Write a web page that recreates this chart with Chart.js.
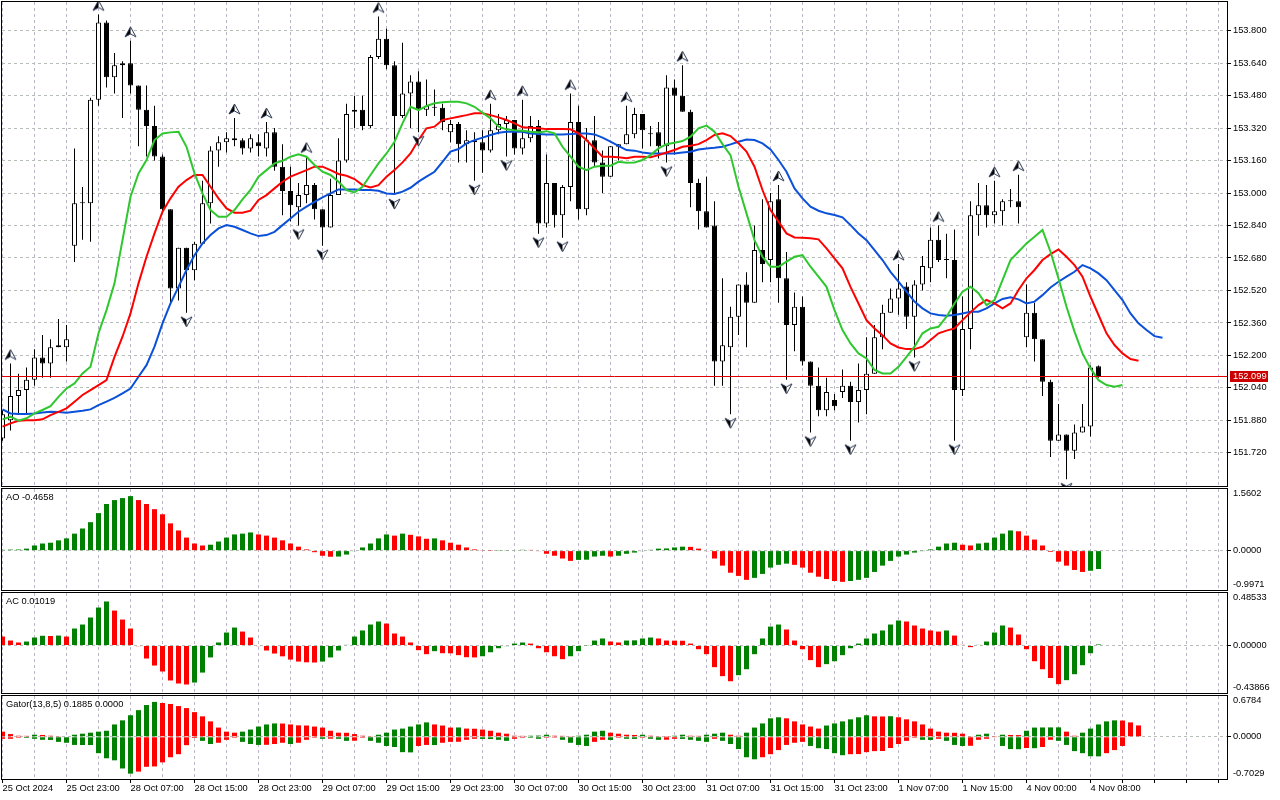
<!DOCTYPE html>
<html><head><meta charset="utf-8">
<script src="https://cdn.jsdelivr.net/npm/chart.js@4.4.1/dist/chart.umd.min.js"></script>
<style>
html,body{margin:0;padding:0;background:#fff;width:1280px;height:800px;overflow:hidden}
canvas{position:absolute;left:0;top:0}
</style></head><body>
<canvas id="cMain" width="1280" height="800"></canvas>
<canvas id="cAO" width="1280" height="800"></canvas>
<canvas id="cAC" width="1280" height="800"></canvas>
<canvas id="cGator" width="1280" height="800"></canvas>
<script>
// ---------- DATA (hourly bars, index 0 = 25 Oct 2024 15:00) ----------
const timeLabelIndex = [0,8,16,24,32,40,48,56,64,72,80,88,96,104,112,120,128,136];
const timeLabelText = ['25 Oct 2024','25 Oct 23:00','28 Oct 07:00','28 Oct 15:00','28 Oct 23:00','29 Oct 07:00','29 Oct 15:00','29 Oct 23:00','30 Oct 07:00','30 Oct 15:00','30 Oct 23:00','31 Oct 07:00','31 Oct 15:00','31 Oct 23:00','1 Nov 07:00','1 Nov 15:00','4 Nov 00:00','4 Nov 08:00'];

const open = [151.79,151.88,152.00,152.03,152.08,152.19,152.16,152.24,152.24,152.74,
152.95,152.95,153.46,153.84,153.57,153.63,153.64,153.53,153.41,153.33,
153.18,152.92,152.53,152.73,152.62,152.75,152.95,153.21,153.25,153.27,
153.26,153.22,153.25,153.22,153.30,153.13,153.01,152.93,152.99,153.04,
152.92,152.83,152.99,153.16,153.40,153.41,153.33,153.67,153.76,153.63,
153.38,153.49,153.55,153.41,153.42,153.42,153.30,153.34,153.24,153.26,
153.25,153.21,153.31,153.34,153.36,153.22,153.27,153.33,152.85,153.05,
152.89,153.03,153.35,152.92,153.26,153.15,153.08,153.228,153.24,153.29,
153.39,153.29,153.30,153.23,153.52,153.48,153.40,153.05,152.91,152.84,
152.17,152.24,152.39,152.55,152.46,152.72,152.67,152.97,152.58,152.35,
152.44,152.17,152.05,151.93,151.98,152.02,152.05,151.97,152.03,152.11,
152.29,152.41,152.48,152.54,152.39,152.55,152.63,152.77,152.67,152.67,
152.03,152.33,152.89,152.94,152.89,152.91,152.96,152.96,152.29,152.41,
152.28,152.07,151.78,151.81,151.73,151.82,151.85,152.147];
const high = [151.93,152.16,152.11,152.14,152.23,152.30,152.28,152.38,152.35,153.22,
153.03,153.47,153.88,153.85,153.69,153.65,153.75,153.53,153.53,153.43,
153.19,152.92,152.73,152.73,152.76,153.06,153.23,153.28,153.30,153.37,
153.27,153.29,153.29,153.35,153.32,153.24,153.13,153.05,153.18,153.05,
152.92,153.07,153.27,153.44,153.48,153.48,153.68,153.87,153.81,153.65,
153.74,153.58,153.60,153.56,153.51,153.44,153.36,153.35,153.31,153.30,
153.31,153.44,153.39,153.38,153.36,153.46,153.38,153.36,153.19,153.05,
153.04,153.49,153.43,153.32,153.38,153.21,153.23,153.24,153.43,153.42,
153.39,153.33,153.35,153.58,153.56,153.63,153.41,153.07,153.08,152.96,
152.58,152.44,152.55,152.61,152.84,152.97,153.00,153.04,152.71,152.51,
152.49,152.17,152.14,152.09,152.01,152.13,152.07,152.16,152.29,152.35,
152.45,152.53,152.65,152.56,152.57,152.69,152.83,152.84,152.80,152.82,
152.49,152.96,153.05,153.04,153.06,152.97,153.02,153.09,152.55,152.46,
152.28,152.08,151.96,151.81,151.86,151.96,152.15,152.15];
const low = [151.78,151.83,151.91,151.91,152.05,152.09,152.09,152.24,152.17,152.66,
152.77,152.76,153.43,153.52,153.49,153.37,153.49,153.23,153.18,153.16,
152.90,152.46,152.47,152.41,152.57,152.75,152.85,153.13,153.20,153.23,
153.19,153.20,153.18,153.18,153.11,152.89,152.86,152.84,152.95,152.87,
152.74,152.83,152.99,153.15,153.32,153.31,153.32,153.66,153.61,152.99,
153.37,153.32,153.30,153.38,153.38,153.31,153.25,153.15,153.15,153.06,
153.10,153.20,153.29,153.18,153.19,153.19,153.25,152.80,152.83,152.83,
152.78,152.96,152.87,152.89,153.13,153.00,153.08,153.16,153.24,153.27,
153.22,153.23,153.17,153.15,153.19,153.40,152.93,152.82,152.83,152.05,
152.05,151.91,152.30,152.24,152.46,152.56,152.56,152.46,152.08,152.22,
152.15,151.82,151.90,151.90,151.93,151.99,151.78,151.87,151.91,152.11,
152.23,152.41,152.40,152.33,152.19,152.52,152.56,152.66,152.58,151.78,
152.00,152.23,152.79,152.83,152.85,152.84,152.93,152.85,152.24,152.17,
152.00,151.70,151.78,151.59,151.69,151.82,151.80,152.09];
const close = [151.91,152.00,152.03,152.08,152.19,152.16,152.24,152.25,152.28,152.95,
152.955,153.46,153.84,153.57,153.63,153.64,153.53,153.41,153.33,153.18,
152.92,152.53,152.73,152.62,152.75,152.95,153.21,153.25,153.27,153.26,
153.22,153.27,153.23,153.30,153.13,153.01,152.94,152.99,153.04,152.92,
152.83,152.99,153.16,153.39,153.41,153.33,153.67,153.76,153.63,153.38,
153.49,153.55,153.41,153.43,153.425,153.35,153.34,153.24,153.26,153.25,
153.21,153.31,153.34,153.36,153.22,153.27,153.33,152.85,153.05,152.89,
153.03,153.35,152.92,153.26,153.15,153.08,153.23,153.24,153.29,153.39,
153.31,153.295,153.23,153.52,153.48,153.40,153.05,152.91,152.83,152.17,
152.25,152.39,152.55,152.46,152.72,152.65,152.96,152.58,152.35,152.44,
152.17,152.05,151.93,152.02,151.95,152.05,151.97,152.03,152.11,152.29,
152.41,152.48,152.53,152.39,152.55,152.64,152.77,152.67,152.675,152.03,
152.33,152.89,152.94,152.89,152.91,152.96,152.965,152.93,152.41,152.28,
152.07,151.78,151.81,151.73,151.82,151.85,152.14,152.099];

// Alligator (already shifted forward: lips +3, teeth +5, jaw +8 bars)
const lips = [151.885,151.898,151.878,151.890,151.914,151.931,151.950,151.996,152.037,152.062,
152.111,152.144,152.309,152.423,152.555,152.768,152.982,153.097,153.163,153.261,
153.294,153.299,153.302,153.228,153.097,152.998,152.916,152.883,152.883,152.916,
152.969,153.015,153.081,153.113,153.146,153.159,153.179,153.191,153.179,153.138,
153.105,153.089,153.056,153.015,153.003,153.031,153.089,153.146,153.195,153.253,
153.343,153.425,153.409,153.429,153.442,153.447,153.450,153.450,153.442,153.425,
153.396,153.368,153.327,153.314,153.310,153.307,153.302,153.299,153.305,153.294,
153.228,153.179,153.130,153.113,153.130,153.135,153.135,153.154,153.149,153.151,
153.163,153.187,153.220,153.241,153.248,153.256,153.278,153.319,153.332,153.302,
153.241,153.187,153.031,152.900,152.768,152.686,152.637,152.637,152.662,152.686,
152.694,152.637,152.588,152.538,152.423,152.325,152.259,152.210,152.185,152.128,
152.111,152.111,152.144,152.193,152.243,152.309,152.333,152.341,152.391,152.456,
152.514,152.538,152.506,152.448,152.473,152.571,152.670,152.711,152.752,152.785,
152.818,152.711,152.579,152.440,152.317,152.210,152.136,152.078,152.054,152.046,
152.054];
const teeth = [151.849,151.865,151.878,151.881,151.881,151.885,151.906,151.922,151.939,151.972,
152.005,152.029,152.054,152.078,152.193,152.292,152.407,152.555,152.686,152.801,
152.908,152.974,153.031,153.064,153.089,153.089,153.031,152.974,152.924,152.903,
152.903,152.913,152.966,152.990,153.023,153.056,153.081,153.097,153.113,153.130,
153.130,153.113,153.094,153.085,153.069,153.039,153.028,153.039,153.081,153.113,
153.151,153.195,153.261,153.319,153.327,153.360,153.368,153.376,153.384,153.393,
153.393,153.384,153.373,153.360,153.343,153.324,153.322,153.319,153.315,153.315,
153.315,153.314,153.294,153.261,153.220,153.179,153.179,153.176,153.171,153.179,
153.179,153.176,153.187,153.200,153.212,153.228,153.233,153.241,153.261,153.286,
153.294,153.281,153.245,153.204,153.130,153.015,152.916,152.859,152.801,152.781,
152.780,152.777,152.772,152.727,152.678,152.629,152.538,152.456,152.374,152.333,
152.300,152.259,152.239,152.231,152.231,152.243,152.276,152.309,152.322,152.333,
152.374,152.412,152.448,152.473,152.456,152.432,152.456,152.522,152.580,152.621,
152.670,152.699,152.722,152.686,152.645,152.588,152.489,152.399,152.309,152.251,
152.210,152.182,152.174];
const jaw = [151.934,151.914,151.911,151.911,151.914,151.919,151.922,151.921,151.917,151.922,
151.927,151.934,151.955,151.972,151.991,152.013,152.037,152.095,152.152,152.243,
152.358,152.456,152.538,152.621,152.694,152.752,152.793,152.826,152.842,152.834,
152.818,152.801,152.788,152.793,152.809,152.842,152.875,152.908,152.933,152.957,
152.979,152.998,153.018,153.018,153.018,153.015,153.015,153.011,152.998,152.995,
153.007,153.026,153.056,153.081,153.105,153.154,153.204,153.217,153.245,153.261,
153.273,153.286,153.297,153.302,153.302,153.302,153.294,153.291,153.289,153.289,
153.289,153.291,153.294,153.294,153.289,153.273,153.253,153.232,153.212,153.209,
153.200,153.195,153.195,153.195,153.195,153.200,153.204,153.215,153.220,153.223,
153.228,153.240,153.253,153.264,153.261,153.245,153.215,153.163,153.105,153.023,
152.974,152.933,152.913,152.900,152.892,152.880,152.842,152.801,152.768,152.719,
152.670,152.612,152.563,152.514,152.465,152.432,152.407,152.399,152.395,152.399,
152.407,152.415,152.415,152.432,152.456,152.478,152.486,152.476,152.456,152.465,
152.497,152.535,152.563,152.588,152.612,152.645,152.629,152.604,152.571,152.522,
152.473,152.407,152.358,152.325,152.295,152.287];

const fractalUp = [1,12,16,29,33,38,47,61,65,71,78,85,97,112,117,124,127];
const fractalDown = [23,37,40,49,52,59,63,67,70,83,91,98,101,106,114,119,133];

const priceTicks = [151.72,151.88,152.04,152.20,152.36,152.52,152.68,152.84,153.00,153.16,153.32,153.48,153.64,153.80];
const priceRange = [151.5565, 153.9414];

const ao = [0.02,0.026,0.028,0.05,0.13,0.18,0.20,0.26,0.31,0.43,
0.56,0.72,0.95,1.18,1.28,1.33,1.38,1.28,1.18,1.05,
0.92,0.69,0.51,0.33,0.18,0.13,0.15,0.23,0.33,0.41,
0.43,0.46,0.41,0.38,0.33,0.26,0.18,0.10,0.03,-0.04,
-0.13,-0.155,-0.15,-0.10,-0.01,0.08,0.18,0.31,0.41,0.38,
0.43,0.40,0.36,0.30,0.31,0.26,0.20,0.15,0.08,0.03,
0.008,0.004,0.006,0.008,0.01,0.02,0.018,-0.01,-0.08,-0.13,
-0.20,-0.26,-0.235,-0.23,-0.15,-0.13,-0.15,-0.13,-0.08,-0.05,
-0.01,0.02,0.05,0.055,0.08,0.10,0.095,0.05,-0.01,-0.20,
-0.38,-0.56,-0.64,-0.74,-0.69,-0.59,-0.43,-0.36,-0.33,-0.36,
-0.43,-0.56,-0.66,-0.72,-0.77,-0.79,-0.77,-0.74,-0.69,-0.54,
-0.38,-0.26,-0.15,-0.10,-0.05,-0.005,0.03,0.10,0.18,0.20,
0.15,0.13,0.18,0.20,0.33,0.43,0.51,0.49,0.38,0.28,
0.13,-0.03,-0.28,-0.38,-0.49,-0.54,-0.51,-0.4658];
const aoRange = [-0.9971, 1.5602];
const aoTickValues = [1.5602, 0, -0.9971];
const aoTickText = ['1.5602','0.0000','-0.9971'];

const ac = [0.083,0.046,0.028,0.037,0.074,0.090,0.088,0.092,0.083,0.157,
0.194,0.259,0.351,0.407,0.323,0.240,0.157,-0.006,-0.12,-0.185,
-0.24,-0.323,-0.351,-0.36,-0.342,-0.25,-0.11,0.028,0.12,0.166,
0.129,0.074,-0.006,-0.046,-0.074,-0.10,-0.13,-0.148,-0.155,-0.157,
-0.148,-0.11,-0.046,0.006,0.083,0.139,0.194,0.222,0.203,0.111,
0.083,0.028,-0.043,-0.08,-0.052,-0.071,-0.072,-0.089,-0.108,-0.110,
-0.099,-0.062,-0.025,-0.006,0.018,0.028,0.018,-0.025,-0.062,-0.099,
-0.126,-0.099,-0.052,-0.002,0.046,0.065,0.037,0.028,0.046,0.048,
0.065,0.074,0.065,0.046,0.045,0.044,0.018,-0.034,-0.08,-0.20,
-0.283,-0.33,-0.274,-0.219,-0.08,0.065,0.175,0.194,0.148,0.046,
-0.034,-0.135,-0.20,-0.172,-0.145,-0.089,-0.025,0.018,0.065,0.111,
0.139,0.194,0.231,0.222,0.185,0.157,0.139,0.129,0.139,0.092,
0.006,-0.015,0.006,0.037,0.12,0.185,0.166,0.102,-0.034,-0.145,
-0.219,-0.30,-0.357,-0.32,-0.265,-0.182,-0.071,0.01019];
const acRange = [-0.43866, 0.48533];
const acTickValues = [0.48533, 0, -0.43866];
const acTickText = ['0.48533','0.00000','-0.43866'];

const gatorUpper = [0.085,0.045,0.017,0.015,0.034,0.030,0.017,0.005,0.008,0.034,
0.051,0.068,0.085,0.10,0.205,0.273,0.358,0.443,0.528,0.58,
0.562,0.545,0.511,0.477,0.41,0.34,0.256,0.153,0.085,0.068,
0.085,0.12,0.17,0.205,0.222,0.220,0.205,0.190,0.187,0.17,
0.153,0.10,0.068,0.066,0.045,0.017,0.005,0.034,0.068,0.12,
0.136,0.17,0.205,0.239,0.205,0.187,0.153,0.155,0.136,0.134,
0.12,0.10,0.068,0.051,0.017,0.015,0.017,0.020,0.034,0.017,
0.015,0.005,0.017,0.034,0.085,0.10,0.068,0.051,0.034,0.030,
0.034,0.017,0.005,0.003,0.017,0.034,0.017,0.015,0.034,0.051,
0.068,0.034,0.017,0.068,0.153,0.222,0.307,0.324,0.307,0.256,
0.205,0.17,0.136,0.187,0.222,0.256,0.29,0.324,0.358,0.34,
0.338,0.342,0.324,0.29,0.256,0.205,0.136,0.085,0.068,0.066,
0.051,0.005,0.034,0.051,0.004,0.034,0.030,0.028,0.10,0.153,
0.155,0.156,0.157,0.085,0.017,0.068,0.136,0.205,0.256,0.273,
0.27,0.239,0.1885];
const gatorLower = [-0.034,-0.034,-0.017,-0.020,-0.034,-0.051,-0.053,-0.085,-0.10,-0.136,
-0.137,-0.138,-0.273,-0.358,-0.392,-0.528,-0.614,-0.58,-0.50,-0.494,
-0.426,-0.341,-0.29,-0.14,-0.02,-0.068,-0.12,-0.10,-0.051,-0.017,
-0.085,-0.12,-0.136,-0.134,-0.12,-0.10,-0.12,-0.10,-0.051,-0.017,
-0.034,-0.032,-0.034,-0.068,-0.066,-0.017,-0.068,-0.10,-0.153,-0.17,
-0.256,-0.26,-0.153,-0.136,-0.138,-0.10,-0.085,-0.083,-0.051,-0.034,
-0.036,-0.038,-0.051,-0.068,-0.034,-0.017,-0.018,-0.034,-0.017,-0.015,
-0.051,-0.10,-0.136,-0.153,-0.085,-0.051,-0.053,-0.017,-0.034,-0.036,
-0.017,-0.034,-0.051,-0.049,-0.034,-0.036,-0.051,-0.068,-0.085,-0.034,
-0.068,-0.12,-0.205,-0.341,-0.375,-0.341,-0.29,-0.222,-0.136,-0.10,
-0.085,-0.153,-0.19,-0.205,-0.273,-0.307,-0.29,-0.288,-0.256,-0.239,
-0.237,-0.187,-0.12,-0.068,-0.017,-0.051,-0.053,-0.034,-0.068,-0.136,
-0.153,-0.150,-0.051,-0.034,-0.01,-0.153,-0.205,-0.207,-0.187,-0.19,
-0.17,-0.051,-0.068,-0.136,-0.239,-0.273,-0.324,-0.326,-0.273,-0.222,
-0.153];
const gatorRange = [-0.7029, 0.6784];
const gatorTickValues = [0.6784, 0, -0.7029];
const gatorTickText = ['0.6784','0.0000','-0.7029'];

const titleAO = 'AO -0.4658';
const titleAC = 'AC 0.01019';
const titleGator = 'Gator(13,8,5) 0.1885 0.0000';

// ---------- STYLE ----------
const FF = '"Liberation Sans", Arial, sans-serif';
const FS = 9.3;
const GREEN = '#008000', RED = '#ff0000';
const GRID_V = '#bdb4c9', GRID_H = '#b7beb7';
const C_JAW = '#0a50d8', C_TEETH = '#ff0000', C_LIPS = '#2ec82e';
const X_MIN = -0.0625, X_MAX = 153.0625;
const gridIdx = []; for (let v = 0; v <= 152; v += 4) gridIdx.push(v);

const pts = arr => arr.map((v, i) => ({x: i, y: v}));

// fractal arrow glyph: left half solid, right half hollow
function arrowCanvas(up) {
  const c = document.createElement('canvas'); c.width = 13; c.height = 40;
  const g = c.getContext('2d');
  const tipY = up ? 6 : 34, baseY = up ? 16 : 24, notchY = up ? 13 : 27;
  g.lineJoin = 'miter';
  // right half (hollow)
  g.beginPath(); g.moveTo(6.5, tipY); g.lineTo(12, baseY); g.lineTo(6.5, notchY); g.closePath();
  g.fillStyle = '#ffffff'; g.fill();
  // left half (solid)
  g.beginPath(); g.moveTo(6.5, tipY); g.lineTo(1, baseY); g.lineTo(6.5, notchY); g.closePath();
  g.fillStyle = '#000000'; g.fill();
  // outline
  g.beginPath(); g.moveTo(6.5, tipY); g.lineTo(12, baseY); g.lineTo(6.5, notchY); g.lineTo(1, baseY); g.closePath();
  g.strokeStyle = '#2a3550'; g.lineWidth = 1; g.stroke();
  return c;
}
const upImg = arrowCanvas(true), downImg = arrowCanvas(false);

function colorRule(arr, firstGreen, useAbs) {
  return ctx => {
    const i = ctx.dataIndex;
    if (i === undefined) return RED;
    if (i === 0) return firstGreen ? GREEN : RED;
    const a = useAbs ? Math.abs(arr[i]) : arr[i];
    const b = useAbs ? Math.abs(arr[i - 1]) : arr[i - 1];
    return a > b ? GREEN : RED;
  };
}

function framePlugin(extra, beforeExtra) {
  return {
    id: 'frame',
    afterDatasetsDraw(chart) { if (beforeExtra) beforeExtra(chart); },
    afterDraw(chart) {
      const {ctx, chartArea: a} = chart;
      ctx.save();
      ctx.strokeStyle = '#000'; ctx.lineWidth = 1;
      ctx.strokeRect(a.left - 0.5, a.top - 0.5, a.right - a.left + 1, a.bottom - a.top + 1);
      ctx.restore();
      if (extra) extra(chart);
    }
  };
}

function panelText(title, vals, texts) {
  return chart => {
    const {ctx, chartArea: a, scales} = chart;
    ctx.save();
    ctx.fillStyle = '#000'; ctx.font = FS + 'px ' + FF;
    ctx.textBaseline = 'middle'; ctx.textAlign = 'left';
    ctx.fillText(title, 6, a.top + 8);
    vals.forEach((v, k) => {
      let y = scales.y.getPixelForValue(v);
      y = Math.min(Math.max(y, a.top + 4), a.bottom - 6);
      ctx.fillText(texts[k], 1233, y);
    });
    ctx.restore();
  };
}

function options(padTop, padBottom, yRange, yTicks, showYLabels, showXLabels) {
  return {
    responsive: false, animation: false, events: [], devicePixelRatio: 1,
    layout: {autoPadding: false, padding: {left: 2, right: 0, top: padTop, bottom: padBottom}},
    plugins: {legend: {display: false}, tooltip: {enabled: false}},
    scales: {
      x: {
        type: 'linear', position: 'bottom', min: X_MIN, max: X_MAX, offset: false, bounds: 'data',
        afterBuildTicks: s => { s.ticks = gridIdx.map(v => ({value: v})); },
        afterFit: s => { s.height = showXLabels ? 21 : 0; s.paddingLeft = 0; s.paddingRight = 0; },
        ticks: {
          display: showXLabels, autoSkip: false, maxRotation: 0, minRotation: 0, align: 'start', padding: 0,
          color: '#000', font: {family: FF, size: FS},
          callback: v => { const k = timeLabelIndex.indexOf(v); return k >= 0 ? timeLabelText[k] : ''; }
        },
        grid: {
          offset: false,
          color: GRID_V, lineWidth: 1, drawTicks: showXLabels, tickLength: 4, tickWidth: 1, tickBorderDash: [],
          tickColor: c => (c.tick && (timeLabelIndex.includes(c.tick.value) || c.tick.value > 136)) ? '#000' : 'rgba(0,0,0,0)'
        },
        border: {display: false, dash: [3, 3]}
      },
      y: {
        type: 'linear', position: 'right', min: yRange[0], max: yRange[1],
        afterBuildTicks: s => { s.ticks = yTicks.map(v => ({value: v})); },
        afterFit: s => { s.width = 53; s.paddingTop = 0; s.paddingBottom = 0; },
        ticks: {display: showYLabels, padding: 2, color: '#000', font: {family: FF, size: FS}, callback: v => Number(v).toFixed(3)},
        grid: {color: GRID_H, lineWidth: 1, drawTicks: true, tickLength: 4, tickWidth: 1, tickColor: '#000', tickBorderDash: []},
        border: {display: false, dash: [3, 3]}
      }
    }
  };
}

const barBase = {type: 'bar', grouped: false, inflateAmount: 0, borderWidth: 0, barThickness: 5};

// ---------- MAIN PRICE PANEL ----------
const lastPrice = close[close.length - 1];
new Chart(document.getElementById('cMain'), {
  type: 'bar',
  data: {datasets: [
    {type: 'line', data: fractalUp.map(i => ({x: i, y: high[i]})), showLine: false, pointStyle: upImg, pointRadius: 3, order: 0},
    {type: 'line', data: fractalDown.map(i => ({x: i, y: low[i]})), showLine: false, pointStyle: downImg, pointRadius: 3, order: 0},
    {type: 'line', data: pts(lips), borderColor: C_LIPS, borderWidth: 2, pointRadius: 0, tension: 0, order: 1},
    {type: 'line', data: pts(teeth), borderColor: C_TEETH, borderWidth: 2, pointRadius: 0, tension: 0, order: 2},
    {type: 'line', data: pts(jaw), borderColor: C_JAW, borderWidth: 2, pointRadius: 0, tension: 0, order: 3},
    Object.assign({}, barBase, {
      data: open.map((o, i) => ({x: i, y: [o, close[i]]})),
      backgroundColor: c => (c.dataIndex !== undefined && close[c.dataIndex] >= open[c.dataIndex]) ? '#ffffff' : '#000000',
      borderColor: '#000', borderWidth: 1, borderSkipped: false, order: 4
    }),
    Object.assign({}, barBase, {
      data: low.map((l, i) => ({x: i, y: [l, high[i]]})),
      backgroundColor: '#000', barThickness: 1, order: 5
    })
  ]},
  options: options(2, 314, priceRange, priceTicks, true, false),
  plugins: [framePlugin(chart => {
    const {ctx, scales} = chart;
    const y = Math.round(scales.y.getPixelForValue(lastPrice));
    ctx.save();
    ctx.fillStyle = '#cc0000';
    ctx.fillRect(1230, y - 5, 38, 11);
    ctx.fillStyle = '#fff'; ctx.font = FS + 'px ' + FF; ctx.textBaseline = 'middle'; ctx.textAlign = 'left';
    ctx.fillText(lastPrice.toFixed(3), 1233, y + 0.5);
    ctx.restore();
  }, chart => {
    const {ctx, chartArea: a, scales} = chart;
    const y = Math.round(scales.y.getPixelForValue(lastPrice)) + 0.5;
    ctx.save(); ctx.strokeStyle = '#e00000'; ctx.lineWidth = 1;
    ctx.beginPath(); ctx.moveTo(a.left, y); ctx.lineTo(a.right, y); ctx.stroke();
    ctx.restore();
  })]
});

// ---------- AO ----------
new Chart(document.getElementById('cAO'), {
  type: 'bar',
  data: {datasets: [Object.assign({}, barBase, {data: pts(ao), backgroundColor: colorRule(ao, true, false)})]},
  options: options(489, 210, aoRange, [0], false, false),
  plugins: [framePlugin(panelText(titleAO, aoTickValues, aoTickText))]
});

// ---------- AC ----------
new Chart(document.getElementById('cAC'), {
  type: 'bar',
  data: {datasets: [Object.assign({}, barBase, {data: pts(ac), backgroundColor: colorRule(ac, false, false)})]},
  options: options(593, 107, acRange, [0], false, false),
  plugins: [framePlugin(panelText(titleAC, acTickValues, acTickText))]
});

// ---------- GATOR ----------
new Chart(document.getElementById('cGator'), {
  type: 'bar',
  data: {datasets: [
    Object.assign({}, barBase, {data: pts(gatorUpper), backgroundColor: colorRule(gatorUpper, false, true)}),
    Object.assign({}, barBase, {data: pts(gatorLower), backgroundColor: colorRule(gatorLower, false, true)})
  ]},
  options: options(696, 0, gatorRange, [0], false, true),
  plugins: [framePlugin(panelText(titleGator, gatorTickValues, gatorTickText))]
});
</script>
</body></html>
